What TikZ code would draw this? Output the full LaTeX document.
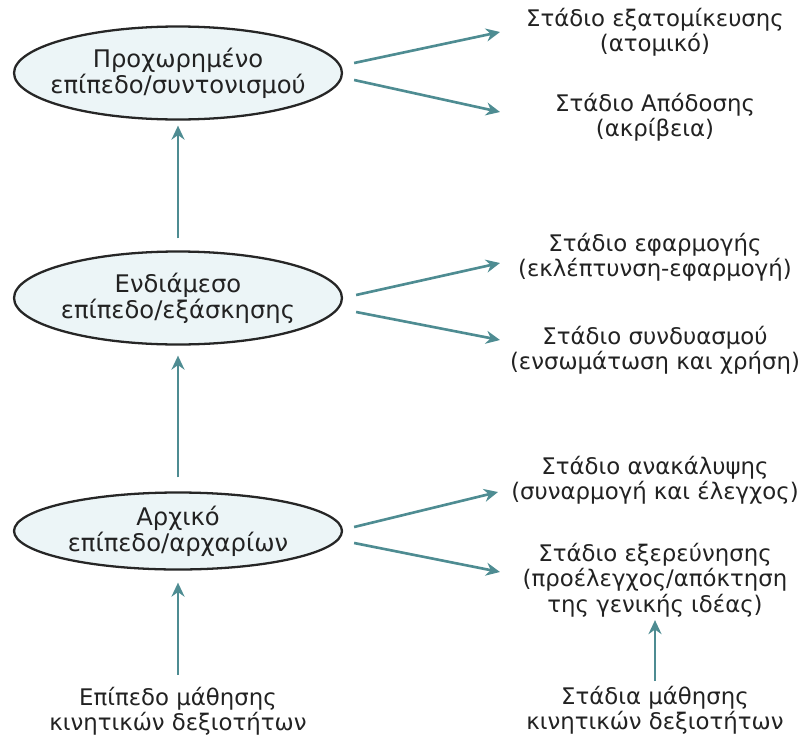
\documentclass[tikz,border=0pt]{standalone}
\usepackage{fontspec}
\setmainfont{DejaVu Sans}
\usepackage{xcolor}
\usetikzlibrary{
    arrows.meta,
    shapes.geometric,
    calc
}

\definecolor{arrowteal}{RGB}{78,140,146}
\definecolor{levelfill}{RGB}{236,245,247}
\definecolor{textgray}{RGB}{34,34,34}

\begin{document}
\begin{tikzpicture}[
    x=0.02cm, y=-0.02cm,
    font=\fontsize{13}{14.5}\selectfont,
    level/.style={
        ellipse,
        draw=black!85,
        line width=1.3pt,
        fill=levelfill,
        minimum width=6.56cm,
        minimum height=1.86cm,
        inner sep=0pt
    },
    leveltext/.style={
        align=center,
        text=textgray,
        inner sep=0pt,
        font=\fontsize{13.8}{13.8}\selectfont
    },
    stage/.style={
        align=center,
        text=textgray,
        inner sep=1pt
    },
    arrow/.style={
        -{Stealth[length=2.8mm,width=2.6mm]},
        line width=1.5pt,
        draw=arrowteal
    }
]
\useasboundingbox (0,0) rectangle (805,734);

% =========================================================
% Levels (left column)
% =========================================================
\node[level, label={[leveltext]center:Προχωρημένο\\επίπεδο/συντονισμού}] (advanced) at (178,73) {};

\node[level, label={[leveltext]center:Ενδιάμεσο\\επίπεδο/εξάσκησης}] (intermediate) at (178,298) {};

\node[level, minimum height=1.54cm, label={[leveltext]center:Αρχικό\\επίπεδο/αρχαρίων}] (initial) at (178,531) {};

\node[stage] (levels) at (178,711)
{Επίπεδο μάθησης\\κινητικών δεξιοτήτων};

% =========================================================
% Stages (right column)
% =========================================================
\node[stage] (individual) at (655,32)
{Στάδιο εξατομίκευσης\\(ατομικό)};

\node[stage] (performance) at (655,117)
{Στάδιο Απόδοσης\\(ακρίβεια)};

\node[stage] (application) at (655,257)
{Στάδιο εφαρμογής\\(εκλέπτυνση-εφαρμογή)};

\node[stage] (combination) at (655,350)
{Στάδιο συνδυασμού\\(ενσωμάτωση και χρήση)};

\node[stage] (discovery) at (655,480)
{Στάδιο ανακάλυψης\\(συναρμογή και έλεγχος)};

\node[stage] (exploration) at (655,580)
{Στάδιο εξερεύνησης\\(προέλεγχος/απόκτηση\\της γενικής ιδέας)};

\node[stage] (stages) at (655,710)
{Στάδια μάθησης\\κινητικών δεξιοτήτων};

\coordinate (tips) at (500,0);

% =========================================================
% Upward arrows
% =========================================================
\draw[arrow, shorten <=0.24cm, shorten >=0.1cm] (intermediate) -- (advanced);
\draw[arrow, shorten <=0.28cm, shorten >=0.2cm] (initial) -- (intermediate);
\draw[arrow, shorten <=0.2cm, shorten >=0.24cm] (levels) -- (initial);
\draw[arrow, shorten <=0.05cm, shorten >=0.02cm] (stages) -- (exploration);

% =========================================================
% Level to stage arrows
% =========================================================
\draw[arrow] ([shift={(11,-10)}]advanced.east) -- (individual -| tips);
\draw[arrow] ([shift={(11,7)}]advanced.east) -- ($(performance -| tips)+(0,-5)$);

\draw[arrow] ([shift={(13,-3)}]intermediate.east) -- ($(application -| tips)+(0,6)$);
\draw[arrow] ([shift={(13,14)}]intermediate.east) -- ($(combination -| tips)+(0,-10)$);

\draw[arrow] ([shift={(11,-4)}]initial.east) -- ($(discovery -| tips)+(-2,12)$);
\draw[arrow] ([shift={(11,12)}]initial.east) -- ($(exploration -| tips)+(0,-8)$);

\end{tikzpicture}
\end{document}
